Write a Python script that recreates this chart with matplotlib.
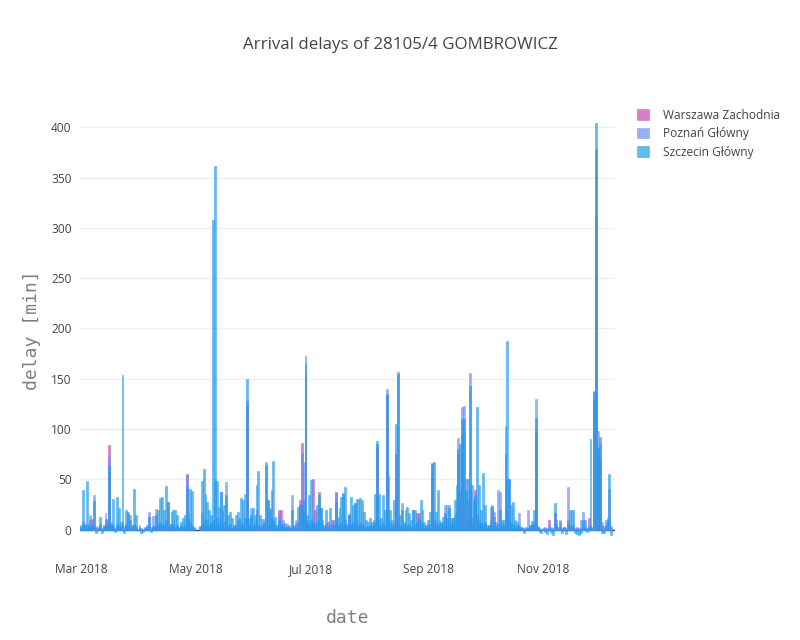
import matplotlib
matplotlib.use("Agg")
import matplotlib.pyplot as plt
import matplotlib.dates as mdates
import numpy as np
import pandas as pd

# daily arrival delays [min], one value per day from 2018-03-01, None = no run
start_date = "2018-03-01"

warszawa = [
    # Mar
    2, 3, 1, 2, 4, 10, 11, 3, 2, 1, 4, 0, 3, 5, 11, 84, 6, 3, 1, 4,
    2, 1, 6, 2, 5, 3, 2, 1, 3, 2, 0,
    # Apr
    3, 1, 0, 2, 4, 3, 1, 2, 3, 4, 2, 5, 4, 3, 6, 3, 2, 1, 4, 2,
    3, 1, 4, 2, 3, 55, 6, 3, 2, 1,
    # May
    None, None, 1, 5, 6, 4, 3, 2, 4, 5, 6, 5, 3, 4, 2, 3, 4, 2, 3, 1,
    2, 2, 3, 2, 4, 3, 2, 123, 3, 4, 2,
    # Jun
    3, 20, 3, 2, 1, 2, 4, 3, 5, 40, 6, 2, 1, 20, 20, 3, 2, 1, 2, 1,
    3, 2, 1, 3, 30, 86, 20, 155, 5, 4,
    # Jul
    5, 50, 20, 3, 38, 4, 2, 1, 3, 8, 2, 10, 3, 38, 4, 2, 3, 4, 5, 2,
    15, 3, 4, 5, 3, 2, 4, 3, 2, 1, 2,
    # Aug
    3, 2, 4, 5, 82, 3, 2, 4, 3, 135, 5, 3, 2, 4, 75, 6, 3, 2, 3, 4,
    2, 3, 1, 2, 3, 17, 17, 4, 3, 2, 1,
    # Sep
    3, 2, 52, 5, 3, 4, 2, 3, 4, 5, 3, 4, 3, 5, 6, 8, 75, 30, 95, 20,
    5, 10, 40, 6, 5, 40, 10, 6, 4, 3,
    # Oct
    4, 5, 2, 3, 4, 13, 5, 3, 4, 2, 3, 75, 20, 5, 3, 2, 1, 2, 3, 1,
    0, 1, 2, 1, 2, 3, 4, 97, 2, 1, 0,
    # Nov
    1, 2, 1, 10, 2, 1, 17, 3, 2, 8, 1, 2, 1, 10, 3, 2, 3, 1, 2, 1,
    2, 3, 2, 1, 12, 3, 2, 130, 312, 80,
    # Dec
    70, 5, 2, 3, 4, 10, 2,
]

poznan = [
    # Mar
    3, 8, 4, 5, 6, 15, 8, 35, 4, 3, 6, 2, 5, 17, 7, 72, 8, 5, 2, 6,
    5, 3, 8, 4, 6, 16, 15, 3, 6, 4, 1,
    # Apr
    5, 2, 1, 3, 5, 18, 3, 14, 5, 21, 6, 8, 6, 5, 10, 28, 5, 3, 6, 3,
    5, 2, 5, 4, 5, 54, 18, 8, 5, 2,
    # May
    None, None, 3, 17, 10, 8, 10, 5, 8, 10, 48, 12, 8, 38, 6, 8, 47, 5, 6, 3,
    4, 5, 10, 5, 8, 6, 36, 128, 6, 22, 5,
    # Jun
    6, 8, 6, 4, 11, 11, 67, 30, 22, 10, 10, 5, 3, 17, 8, 10, 7, 6, 5, 4,
    35, 5, 10, 8, 12, 76, 67, 165, 10, 8,
    # Jul
    10, 12, 6, 8, 10, 22, 5, 3, 6, 4, 5, 6, 5, 37, 6, 5, 8, 36, 10, 4,
    10, 6, 8, 27, 6, 5, 8, 6, 5, 3, 4,
    # Aug
    5, 4, 6, 8, 85, 10, 5, 8, 6, 140, 12, 8, 5, 6, 20, 155, 5, 27, 5, 6,
    5, 6, 4, 20, 6, 5, 6, 8, 6, 5, 3,
    # Sep
    6, 5, 65, 10, 8, 6, 5, 6, 8, 25, 25, 25, 8, 12, 15, 20, 91, 40, 122, 123,
    50, 30, 156, 12, 10, 35, 15, 10, 8, 6,
    # Oct
    8, 3, 4, 23, 25, 18, 8, 40, 38, 6, 5, 10, 50, 50, 8, 6, 4, 5, 17, 3,
    2, 2, 3, 20, 4, 6, 8, 130, 4, 2, 1,
    # Nov
    2, 3, 2, 5, 3, 2, 6, 5, 3, 10, 2, 3, 2, 43, 5, 4, 5, 2, 3, 2,
    10, 18, 4, 2, 4, 5, 3, 138, 378, 98,
    # Dec
    85, 8, 4, 5, 8, 41, 4,
]

szczecin = [
    # Mar
    5, 40, 6, 48, 3, 5, 4, 29, -3, 2, 13, -3, 4, 10, 5, 63, 5, 31, -2, 33,
    22, 8, 154, -3, 20, 18, 10, 5, 41, 15, 0,
    # Apr
    2, -3, -2, 1, 3, 13, -2, 4, 2, 15, 20, 32, 33, 20, 44, 28, 6, 18, 20, 20,
    15, 3, 8, 12, 15, 43, 12, 41, 39, 3,
    # May
    None, None, 4, 48, 60, 36, 28, 20, 15, 308, 361, 48, 23, 38, 20, 25, 35, 15, 18, 12,
    5, 15, 18, 12, 32, 30, 12, 150, 12, 15, 22,
    # Jun
    15, 45, 58, 15, 5, 8, 64, 30, 20, 13, 68, 13, 5, 10, 5, 6, 3, 4, 3, 2,
    20, 3, 6, 23, 25, 25, 30, 173, 15, 35,
    # Jul
    49, 8, 5, 25, 35, 22, 10, 5, 20, 3, 22, 5, 10, 28, 13, 22, 33, 37, 43, 6,
    16, 33, 25, 27, 31, 31, 32, 30, 18, 10, 8,
    # Aug
    12, 8, 10, 36, 88, 36, 12, 35, 20, 134, 53, 20, 10, 30, 105, 157, 15, 20, 8, 20,
    23, 17, 10, 20, 20, 8, 12, 30, 20, 8, 5,
    # Sep
    10, 18, 66, 67, 18, 40, 10, 8, 13, 17, 12, 22, 12, 12, 30, 45, 80, 85, 110, 110,
    40, 50, 143, 45, 30, 33, 122, 45, 20, 56,
    # Oct
    25, 2, 5, 10, 23, 8, 3, 6, 20, 10, 10, 103, 188, 50, 25, 28, 10, 8, 5, 2,
    3, -3, 1, 2, 5, 9, 20, 111, 3, -2, -3,
    # Nov
    0, -2, -4, 2, -3, -5, 27, 10, 0, 3, -3, 3, -4, 5, 20, 20, 20, -3, -4, -5,
    -3, 10, 10, -2, 3, 90, 0, 137, 404, 81,
    # Dec
    92, -3, -3, 10, 12, 55, -5,
]

series_names = ["Warszawa Zachodnia", "Poznań Główny", "Szczecin Główny"]
series_values = [warszawa, poznan, szczecin]
series_colors = ["#c448ab", "#6d8ef0", "#1f9be9"]

x_ticks = ["2018-03-01", "2018-05-01", "2018-07-01", "2018-09-01", "2018-11-01"]
y_ticks = [0, 50, 100, 150, 200, 250, 300, 350, 400]

plt.rcParams["font.family"] = ["Open Sans", "DejaVu Sans"]

fig = plt.figure(figsize=(8, 6.4), dpi=100)
ax = fig.add_axes([80 / 800, 80 / 640, 535 / 800, 460 / 640])

dates = pd.date_range(start_date, periods=len(szczecin), freq="D")
for name, vals, col in zip(series_names, series_values, series_colors):
    v = np.array([np.nan if x is None else x for x in vals], dtype=float)
    m = ~np.isnan(v)
    ax.bar(dates[m], v[m], width=1.0, color=col, alpha=0.7, label=name,
           edgecolor=col, linewidth=0.4, zorder=2)

ax.axhline(0, color="#444444", lw=1, zorder=1)

ax.set_xlim(pd.Timestamp("2018-02-28 12:00"), pd.Timestamp("2018-12-09"))
ax.set_ylim(-30, 427)
ax.set_yticks(y_ticks)
ax.set_xticks(pd.to_datetime(x_ticks))
ax.xaxis.set_major_formatter(mdates.DateFormatter("%b %Y"))
ax.grid(axis="y", color="#eeeeee", lw=1, zorder=0)
ax.set_axisbelow(True)
for s in ax.spines.values():
    s.set_visible(False)
ax.tick_params(length=0, labelsize=8.6, colors="#444444")
ax.tick_params(axis="x", pad=2)
ax.tick_params(axis="y", pad=6)

ax.set_xlabel("date", family="DejaVu Sans Mono", fontsize=13, color="#7f7f7f",
              labelpad=24)
ax.set_ylabel("delay [min]", family="DejaVu Sans Mono", fontsize=13,
              color="#7f7f7f", labelpad=7)

fig.text(0.5, 1 - 45 / 640, "Arrival delays of 28105/4 GOMBROWICZ",
         ha="center", va="center", fontsize=12.2, color="#444444")

leg = fig.legend(loc="upper left", bbox_to_anchor=(632 / 800, 1 - 104 / 640),
                 frameon=False, fontsize=8.6, handlelength=1.0, handleheight=1.0,
                 labelspacing=0.45, handletextpad=1.2, borderaxespad=0)
for t in leg.get_texts():
    t.set_color("#444444")

plt.savefig("out.png", dpi=100)
